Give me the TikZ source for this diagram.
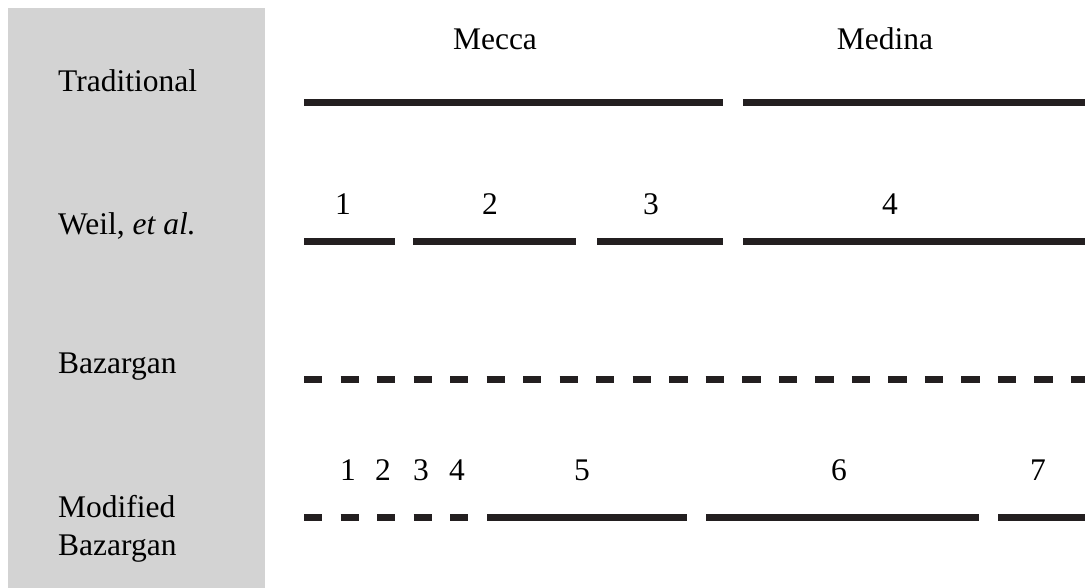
\documentclass[tikz,border=0pt]{standalone}
\usepackage{fontspec}
\setmainfont{Liberation Serif}
\definecolor{panelgray}{HTML}{D3D3D3}
\definecolor{barblack}{HTML}{231F20}
\tikzset{
  lbl/.style={inner sep=0pt, anchor=base west, font=\fontsize{31.5}{38}\selectfont},
  num/.style={inner sep=0pt, anchor=base, font=\fontsize{31.5}{38}\selectfont},
  bar/.style={line width=6.7pt, color=barblack, line cap=butt},
  dashbar/.style={bar, dash pattern=on 18.3pt off 18.22pt}
}
\begin{document}
\begin{tikzpicture}[x=1pt,y=-1pt]
\useasboundingbox (0,0) rectangle (1085,588);
\fill[white] (0,0) rectangle (1085,588);
\fill[panelgray] (8,8) rectangle (265,588);

% row labels
\node[lbl] (trad) at (58,92) {Traditional};
\node[lbl] (weil) at (58,235) {Weil, \textit{et al.}};
\node[lbl] (baz) at (58,373) {Bazargan};
\node[lbl, align=left, anchor=north west] (mbaz) at (58,495) {Modified\\Bazargan};

% column headings
\node[num] (mecca) at (495,50) {Mecca};
\node[num] (medina) at (885,50) {Medina};

% Traditional
\coordinate (t1a) at (304,102.7); \coordinate (t1b) at (723,102.7);
\coordinate (t2a) at (743,102.7); \coordinate (t2b) at (1085,102.7);
\draw[bar] (t1a) -- (t1b);
\draw[bar] (t2a) -- (t2b);

% Weil et al.
\node[num] (w1) at (343,215) {1};
\node[num] (w2) at (490,215) {2};
\node[num] (w3) at (651,215) {3};
\node[num] (w4) at (890,215) {4};
\coordinate (wa1) at (304,241.7); \coordinate (wb1) at (395,241.7);
\coordinate (wa2) at (413,241.7); \coordinate (wb2) at (576,241.7);
\coordinate (wa3) at (597,241.7); \coordinate (wb3) at (723,241.7);
\coordinate (wa4) at (743,241.7); \coordinate (wb4) at (1085,241.7);
\draw[bar] (wa1) -- (wb1);
\draw[bar] (wa2) -- (wb2);
\draw[bar] (wa3) -- (wb3);
\draw[bar] (wa4) -- (wb4);

% Bazargan
\coordinate (ba) at (304,379.3); \coordinate (bb) at (1085,379.3);
\draw[dashbar] (ba) -- (bb);

% Modified Bazargan
\node[num] (m1) at (348,480) {1};
\node[num] (m2) at (383,480) {2};
\node[num] (m3) at (421,480) {3};
\node[num] (m4) at (457,480) {4};
\node[num] (m5) at (582,480) {5};
\node[num] (m6) at (839,480) {6};
\node[num] (m7) at (1038,480) {7};
\coordinate (ma0) at (304,517.7); \coordinate (mb0) at (468.5,517.7);
\coordinate (ma5) at (487,517.7); \coordinate (mb5) at (687,517.7);
\coordinate (ma6) at (706,517.7); \coordinate (mb6) at (979,517.7);
\coordinate (ma7) at (998,517.7); \coordinate (mb7) at (1085,517.7);
\draw[dashbar] (ma0) -- (mb0);
\draw[bar] (ma5) -- (mb5);
\draw[bar] (ma6) -- (mb6);
\draw[bar] (ma7) -- (mb7);
\end{tikzpicture}
\end{document}
